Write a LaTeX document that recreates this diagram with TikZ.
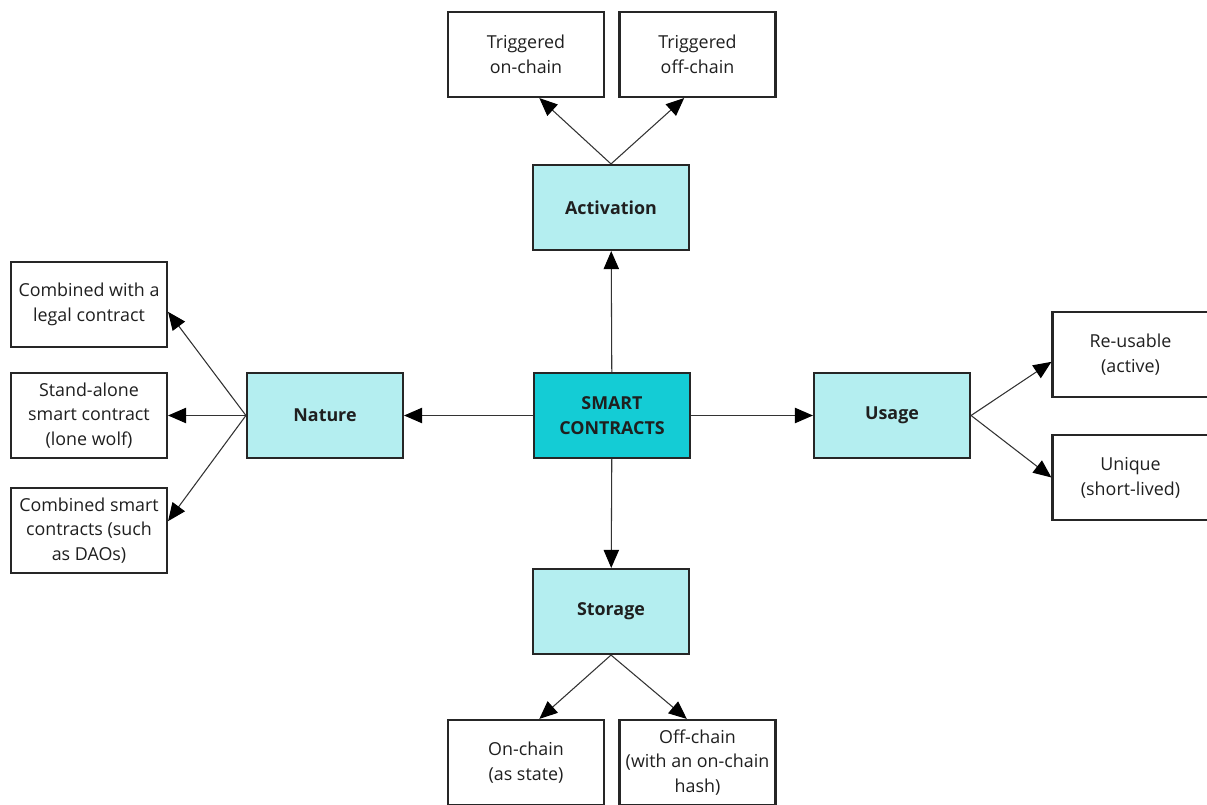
\documentclass[tikz,border=0pt]{standalone}
\usepackage{fontspec}
\setmainfont{Open Sans}
\usepackage{tikz}
\usetikzlibrary{arrows.meta}
\definecolor{boxline}{HTML}{262626}
\definecolor{catfill}{HTML}{B4EEF0}
\definecolor{mainfill}{HTML}{14CCD5}
\definecolor{linkgray}{HTML}{333333}

\begin{document}
\begin{tikzpicture}[x=0.75pt,y=-0.75pt,
		leafbox/.style={draw=boxline, line width=1.6pt, fill=white, minimum width=117pt, minimum height=63.75pt, align=center, inner sep=2pt, font=\fontsize{13.4}{18.6}\selectfont, text=black!88},
		catbox/.style={leafbox, fill=catfill, font=\fontsize{13.4}{18.6}\selectfont\bfseries},
		mainbox/.style={catbox, fill=mainfill},
		link/.style={draw=linkgray, line width=0.8pt, -{Triangle[length=13.5pt,width=11.5pt,color=black]}}]
				\useasboundingbox (0,0) rectangle (1207,805);
				
				% Centre
				\node[mainbox] (sc) at (612,415.5) {SMART\\CONTRACTS};
				
				% Categories
				\node[catbox] (act) at (611,207.5) {Activation};
				\node[catbox] (nat) at (325,415.5) {Nature};
				\node[catbox] (use) at (892,415.5) {Usage};
				\node[catbox] (sto) at (611,611.5) {Storage};
				
				% Activation
				\node[leafbox] (trigon) at (526,54.5) {Triggered\\on-chain};
				\node[leafbox] (trigoff) at (697.5,54.5) {Triggered\\off-chain};
				
				% Nature
				\node[leafbox] (legal) at (89,304.5) {Combined with a\\legal contract};
				\node[leafbox] (alone) at (89,415.5) {Stand-alone\\smart contract\\(lone wolf)};
				\node[leafbox] (dao) at (89,530.5) {Combined smart\\contracts (such\\as DAOs)};
				
				% Usage
				\node[leafbox] (reuse) at (1130.5,354.5) {Re-usable\\(active)};
				\node[leafbox] (uniq) at (1130.5,477.5) {Unique\\(short-lived)};
				
				% Storage
				\node[leafbox] (onst) at (526,762.5) {On-chain\\(as state)};
				\node[leafbox] (offst) at (697.5,762.5) {Off-chain\\(with an on-chain\\hash)};
				
				% Arrows
				\draw[link] (sc) -- (act);
				\draw[link] (sc) -- (nat);
				\draw[link] (sc) -- (use);
				\draw[link] (sc) -- (sto);
				\draw[link] (act.north) -- ([xshift=10pt]trigon.south);
				\draw[link] (act.north) -- ([xshift=-10pt]trigoff.south);
				\draw[link] (nat.west) -- ([yshift=-5.5pt]legal.east);
				\draw[link] (nat.west) -- (alone.east);
				\draw[link] (nat.west) -- ([yshift=7pt]dao.east);
				\draw[link] (use.east) -- ([yshift=-5.5pt]reuse.west);
				\draw[link] (use.east) -- (uniq.west);
				\draw[link] (sto.south) -- ([xshift=10pt]onst.north);
				\draw[link] (sto.south) -- ([xshift=-8pt]offst.north);
			\end{tikzpicture}
\end{document}
